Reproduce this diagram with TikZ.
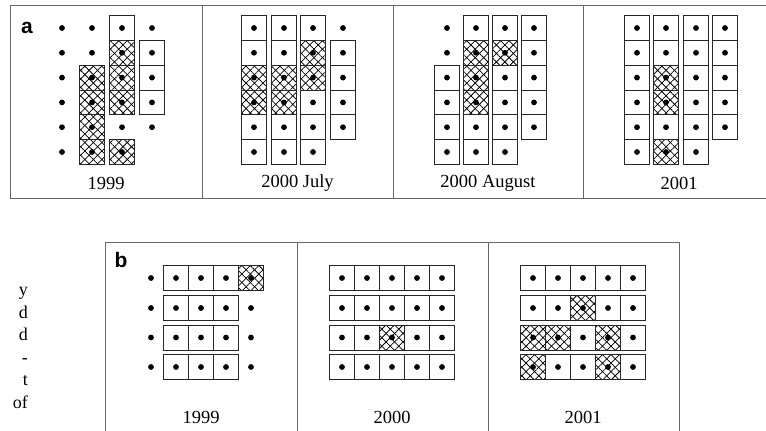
\documentclass[tikz,border=0pt]{standalone}
\usepackage{fontspec}
\setmainfont{Liberation Serif}
\newfontfamily\tagfont{Liberation Sans}
\usetikzlibrary{patterns.meta}

\tikzset{
  panel/.style={draw=black!60,line width=1pt},
  cellbox/.style={draw=black!85,line width=0.8pt},
  hatch/.style={pattern={Lines[angle=45,distance=6pt,line width=0.75pt]},
    postaction={pattern={Lines[angle=-45,distance=6pt,line width=0.75pt]}}},
  year/.style={font=\fontsize{18.5}{22}\selectfont},
  tag/.style={font=\tagfont\bfseries\fontsize{21}{24}\selectfont}
}

% kind: 0 nothing, 1 dot, 2 box, 3 hatched box
\newcommand{\spot}[3]{%
  \ifnum#3=3 \fill[hatch] (#1-12.5,#2-12.4) rectangle ++(25,24.8);\fi
  \ifnum#3>1 \draw[cellbox] (#1-12.5,#2-12.4) rectangle ++(25,24.8);\fi
  \ifnum#3>0 \fill (#1,#2) circle (2.9pt);\fi}
\newcommand{\acolumn}[2]{%
  \foreach \k [count=\r] in {#2} {\pgfmathsetmacro\yy{28+24.8*(\r-1)}\spot{#1}{\yy}{\k}}}
\newcommand{\brow}[3]{%
  \foreach \k [count=\c] in {#3} {\pgfmathsetmacro\xx{#1+25*(\c-1)}\spot{\xx}{#2}{\k}}}

\begin{document}
\begin{tikzpicture}[x=1pt,y=-1pt]
  \useasboundingbox (0,0) rectangle (766,431);

  % panel a
  \draw[panel] (766,5) -- (10,5) -- (10,198) -- (766,198);
  \draw[panel] (202,5) -- (202,198) (393,5) -- (393,198) (583,5) -- (583,198);
  \node[tag] (taga) at (27,28) {a};
  \acolumn{62}{1,1,1,1,1,1}
  \acolumn{92}{1,1,3,3,3,3}
  \acolumn{122}{2,3,3,3,1,3}
  \acolumn{152}{1,2,2,2,1,0}
  \acolumn{254}{2,2,3,3,2,2}
  \acolumn{284}{2,2,3,3,2,2}
  \acolumn{313}{2,3,3,2,2,2}
  \acolumn{343}{1,2,2,2,2,0}
  \acolumn{447}{1,1,2,2,2,2}
  \acolumn{476}{2,3,3,3,2,2}
  \acolumn{505}{2,3,2,2,2,2}
  \acolumn{534}{2,2,2,2,2,0}
  \acolumn{637}{2,2,2,2,2,2}
  \acolumn{666}{2,2,3,3,2,3}
  \acolumn{696}{2,2,2,2,2,2}
  \acolumn{725}{2,2,2,2,2,0}
  \node[year] (a1999) at (106,183) {1999};
  \node[year] (ajuly) at (297.5,183) {2000 July};
  \node[year] (aaug) at (488,183) {2000 August};
  \node[year] (a2001) at (679,183) {2001};

  % panel b
  \draw[panel] (105,431) -- (105,242) -- (679,242) -- (679,431);
  \draw[panel] (297,242) -- (297,431) (488,242) -- (488,431);
  \node[tag] (tagb) at (121,260) {b};
  \brow{151}{278}{1,2,2,2,3}
  \brow{151}{308}{1,2,2,2,1}
  \brow{151}{337.5}{1,2,2,2,1}
  \brow{151}{367}{1,2,2,2,1}
  \brow{342}{278}{2,2,2,2,2}
  \brow{342}{308}{2,2,2,2,2}
  \brow{342}{337.5}{2,2,3,2,2}
  \brow{342}{367}{2,2,2,2,2}
  \brow{533}{278}{2,2,2,2,2}
  \brow{533}{308}{2,2,3,2,2}
  \brow{533}{337.5}{3,3,2,3,2}
  \brow{533}{367}{3,2,2,3,2}
  \node[year] (b1999) at (201,417) {1999};
  \node[year] (b2000) at (392,417) {2000};
  \node[year] (b2001) at (583,417) {2001};

  % cut-off text at the left
  \node[font=\fontsize{18}{22.6}\selectfont,align=right,anchor=east,inner sep=0pt] (cut) at (28,348) {y\\d\\d\\-\\t\\of};
\end{tikzpicture}
\end{document}
